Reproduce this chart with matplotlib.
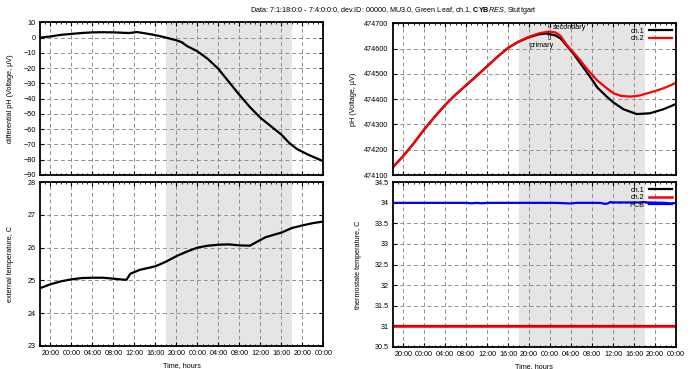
import numpy as np
import matplotlib
matplotlib.use("Agg")
import matplotlib.pyplot as plt
from matplotlib.ticker import MultipleLocator, FixedLocator

plt.rcParams['font.family'] = ['Liberation Sans', 'DejaVu Sans']
plt.rcParams['mathtext.fontset'] = 'custom'
plt.rcParams['mathtext.rm'] = 'Liberation Sans'
plt.rcParams['mathtext.bf'] = 'Liberation Sans:bold'
plt.rcParams['mathtext.it'] = 'Liberation Sans:italic'

# -------------------------
# data (hours since 7:1 18:00)
# -------------------------
tick_hours = list(range(2, 55, 4))
tick_labels = ["20:00", "00:00", "04:00", "08:00", "12:00", "16:00", "20:00",
               "00:00", "04:00", "08:00", "12:00", "16:00", "20:00", "00:00"]
night_start, night_end = 24, 48

# differential pH
dph_h = [0, 2, 4, 6, 8, 10, 12, 14, 16, 17, 18.5, 20, 22, 24, 26, 27, 28, 30,
         32, 34, 36, 38, 40, 42, 44, 46, 47.5, 49, 51, 54]
dph_v = [0, 0.7, 1.8, 2.4, 3.0, 3.4, 3.5, 3.4, 3.1, 3.0, 3.6, 2.8, 1.6, 0,
         -1.8, -3, -5.5, -9, -14, -20.5, -29, -37.5, -45.5, -52.5, -58,
         -63.5, -69, -73, -76.5, -81]

# pH ch.1 / ch.2
ph_h1 = [0, 2, 4, 6, 8, 10, 12, 14, 16, 18, 20, 22, 24, 26, 28, 29.4, 31, 32,
         34.4, 36, 37.6, 39, 40.8, 42, 44, 46.5, 49, 51.6, 54]
ph_v1 = [474130, 474175, 474225, 474280, 474330, 474377, 474418, 474455,
         474492, 474530, 474568, 474603, 474627, 474645, 474657, 474660,
         474652, 474640, 474581, 474535, 474489, 474446, 474410, 474388,
         474360, 474341, 474344, 474360, 474381]
ph_h2 = [0, 2, 4, 6, 8, 10, 12, 14, 16, 18, 20, 22, 24, 26, 28, 29.7, 31, 32,
         33.2, 34.4, 35.7, 37, 38.9, 40.5, 42.1, 43.5, 45.3, 47, 48.5, 50,
         51.6, 53, 54]
ph_v2 = [474130, 474175, 474225, 474280, 474330, 474377, 474418, 474455,
         474492, 474530, 474568, 474603, 474628, 474647, 474661, 474667,
         474664, 474650, 474614, 474586, 474555, 474520, 474476, 474448,
         474423, 474413, 474410, 474414, 474423, 474432, 474443, 474455,
         474465]

# external temperature
ext_h = [0, 2, 4, 6, 8, 10, 12, 14, 16, 16.5, 17.2, 19, 22, 24, 26, 28, 30,
         32, 34, 36, 38, 40, 41.6, 43, 46, 48, 50, 52, 54]
ext_v = [24.76, 24.88, 24.97, 25.03, 25.07, 25.08, 25.08, 25.05, 25.02, 25.02,
         25.2, 25.32, 25.43, 25.57, 25.74, 25.88, 26.0, 26.06, 26.09, 26.1,
         26.07, 26.06, 26.2, 26.32, 26.46, 26.6, 26.68, 26.75, 26.8]

# thermostate temperature
th_h = [0, 54]
th_ch1 = [31.0, 31.0]
th_ch2 = [31.0, 31.0]
pcb_h = [0, 14, 15, 16, 17, 18, 31, 33, 34, 35, 39.5, 40.5, 41, 41.5, 42, 47,
         47.8, 48.5, 52, 53, 54]
pcb_v = [34.0, 34.0, 33.99, 34.0, 33.99, 34.0, 34.0, 33.99, 33.985, 34.0,
         34.0, 33.975, 33.985, 34.02, 34.01, 34.01, 34.02, 34.01, 34.0,
         33.985, 34.0]

FS = 5.2
W, H = 700, 369
fig = plt.figure(figsize=(7, 3.69), dpi=100)


def make_ax(x0, y0, x1, y1):
    return fig.add_axes([x0 / W, 1 - y1 / H, (x1 - x0) / W, (y1 - y0) / H])


def style(ax, ylo, yhi, ystep, bottom):
    ax.set_xlim(0, 54)
    ax.set_ylim(ylo, yhi)
    ax.axvspan(night_start, night_end, color='#e5e5e5', lw=0, zorder=0)
    ax.xaxis.set_major_locator(FixedLocator(tick_hours))
    ax.xaxis.set_minor_locator(MultipleLocator(1))
    ax.yaxis.set_major_locator(MultipleLocator(ystep))
    ax.tick_params(which='both', direction='in', top=True, right=True,
                   labelsize=FS, pad=3)
    ax.tick_params(which='major', length=3, width=0.8)
    ax.tick_params(which='minor', length=1.5, width=0.6)
    ax.grid(True, which='major', color='#909090', ls=(0, (4, 3)), lw=0.7)
    for s in ax.spines.values():
        s.set_linewidth(1.3)
    if bottom:
        ax.set_xticklabels(tick_labels)
        ax.set_xlabel("Time, hours", fontsize=FS, labelpad=4)
    else:
        ax.set_xticklabels([])


# top left
ax1 = make_ax(40, 22.3, 323.3, 175)
style(ax1, -90, 10, 10, False)
ax1.plot(dph_h, dph_v, color='black', lw=1.6)
ax1.set_ylabel("differential pH (Voltage, µV)", fontsize=FS)
ax1.yaxis.set_label_coords(-0.092, 0.5)

# bottom left
ax2 = make_ax(40, 182.3, 323.3, 345.7)
style(ax2, 23, 28, 1, True)
ax2.plot(ext_h, ext_v, color='black', lw=1.6)
ax2.set_ylabel("external temperature, C", fontsize=FS)
ax2.yaxis.set_label_coords(-0.092, 0.5)

# top right
ax3 = make_ax(392.7, 23.3, 676, 175)
style(ax3, 474100, 474700, 100, False)
ax3.plot(ph_h1, ph_v1, color='black', lw=1.6, label='ch.1')
ax3.plot(ph_h2, ph_v2, color='#ff0000', lw=1.6, label='ch.2')
ax3.yaxis.set_major_formatter(matplotlib.ticker.FormatStrFormatter('%d'))
ax3.set_ylabel("pH (Voltage, µV)", fontsize=FS)
ax3.yaxis.set_label_coords(-0.127, 0.5)
ax3.text(29.8, 474689, "⇩", fontsize=6, ha='center', va='center',
         family='DejaVu Sans')
ax3.text(30.6, 474684, "secondary", fontsize=FS, ha='left', va='center')
ax3.text(29.8, 474643, "⇧", fontsize=6, ha='center', va='center',
         family='DejaVu Sans')
ax3.text(28.3, 474614, "primary", fontsize=FS, ha='center', va='center')
ax3.legend(loc='upper right', frameon=False, fontsize=FS, markerfirst=False,
           handlelength=3.2, labelspacing=0.05, borderaxespad=0.2,
           handletextpad=0.6)

# bottom right
ax4 = make_ax(392.7, 182.3, 676, 346.7)
style(ax4, 30.5, 34.5, 0.5, True)
ax4.plot(th_h, th_ch1, color='black', lw=1.6, label='ch.1')
ax4.plot(th_h, th_ch2, color='#ff0000', lw=1.8, label='ch.2')
ax4.plot(pcb_h, pcb_v, color='#0000ff', lw=1.6, label='PCB')
ax4.yaxis.set_major_formatter(matplotlib.ticker.FormatStrFormatter('%g'))
ax4.set_ylabel("thermostate temperature, C", fontsize=FS)
ax4.yaxis.set_label_coords(-0.11, 0.5)
ax4.legend(loc='upper right', frameon=False, fontsize=FS, markerfirst=False,
           handlelength=3.2, labelspacing=0.05, borderaxespad=0.2,
           handletextpad=0.6)

fig.text(393.5 / W, 1 - 10 / H,
         r"Data: 7:1:18:0:0 - 7:4:0:0:0, dev.ID: 00000, MU3.0, Green Leaf, ch.1, "
         r"$\mathbf{CYB}\mathit{RES}$, Stuttgart",
         fontsize=FS, ha='center', va='center')

fig.savefig("out.png", dpi=100)
